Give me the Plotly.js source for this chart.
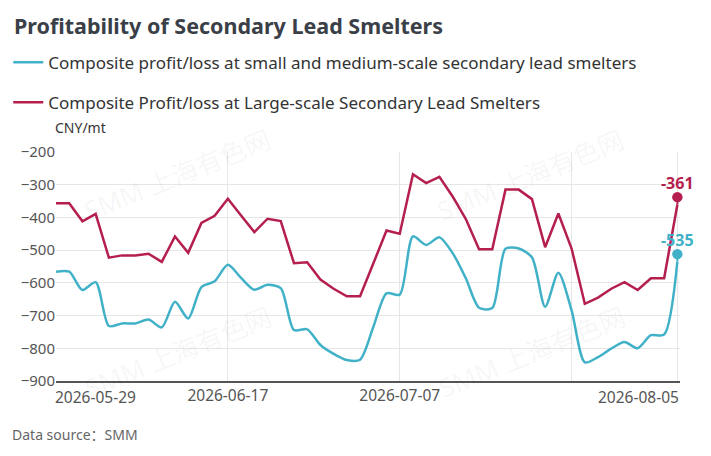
<!DOCTYPE html>
<html>
<head>
<meta charset="utf-8">
<script src="https://cdn.plot.ly/plotly-3.0.1.min.js"></script>
<style>
  html, body { margin: 0; padding: 0; background: #fff; }
  #chart { width: 711px; height: 456px; }
</style>
</head>
<body>
<div id="chart"></div>
<script>
// ---- data ----
const dates = [
  '2026-05-29','2026-06-01','2026-06-02','2026-06-03','2026-06-04','2026-06-05',
  '2026-06-08','2026-06-09','2026-06-10','2026-06-11','2026-06-12','2026-06-15',
  '2026-06-16','2026-06-17','2026-06-18','2026-06-22','2026-06-23','2026-06-24',
  '2026-06-25','2026-06-26','2026-06-29','2026-06-30','2026-07-01','2026-07-02',
  '2026-07-03','2026-07-06','2026-07-07','2026-07-08','2026-07-09','2026-07-10',
  '2026-07-13','2026-07-14','2026-07-15','2026-07-16','2026-07-17','2026-07-20',
  '2026-07-21','2026-07-22','2026-07-23','2026-07-24','2026-07-27','2026-07-28',
  '2026-07-29','2026-07-30','2026-07-31','2026-08-03','2026-08-04','2026-08-05'
];
const smallMediumScale = [
  -566,-566,-622,-598,-732,-724,-724,-712,-736,-658,-709,-613,
  -595,-545,-585,-621,-606,-616,-744,-742,-790,-817,-836,-835,
  -735,-632,-636,-458,-484,-461,-509,-586,-676,-677,-496,-495,
  -522,-673,-569,-684,-843,-827,-801,-781,-800,-760,-758,-535
];
const largeScale = [
  -357,-357,-412,-389,-523,-516,-516,-511,-536,-458,-508,-417,
  -395,-343,-394,-445,-404,-411,-540,-537,-590,-618,-641,-641,
  -541,-440,-450,-268,-295,-276,-336,-405,-497,-497,-315,-315,
  -344,-491,-388,-495,-664,-645,-618,-598,-622,-586,-586,-361
];
const seriesNames = [
  'Composite profit/loss at small and medium-scale secondary lead smelters',
  'Composite Profit/loss at Large-scale Secondary Lead Smelters'
];
const tickDates = ['2026-05-29','2026-06-17','2026-07-07','2026-07-24','2026-08-05'];
const tickLabels = ['', '2026-06-17', '2026-07-07', '', ''];
const yTicks = [-900,-800,-700,-600,-500,-400,-300,-200];

const titleText = 'Profitability of Secondary Lead Smelters';
const unitText = 'CNY/mt';
const sourceText = 'Data source：SMM';
const watermark = 'SMM 上海有色网';

// ---- styles ----
const TEAL = '#41b1c8';
const RED = '#b51f4e';
const FONT = '"Noto Sans", "Open Sans", "Noto Sans CJK SC", sans-serif';
const last = dates.length - 1;

const traces = [
  {
    x: dates, y: smallMediumScale, name: seriesNames[0], type: 'scatter', mode: 'lines',
    line: { color: TEAL, width: 2.5, shape: 'spline', smoothing: 0.75 },
    legendgroup: 'a', hoverinfo: 'x+y'
  },
  {
    x: dates, y: largeScale, name: seriesNames[1], type: 'scatter', mode: 'lines',
    line: { color: RED, width: 2.5 },
    legendgroup: 'b', hoverinfo: 'x+y'
  }
];

function pin(series, color) {
  return {
    x: dates[last], y: series[last], xref: 'x', yref: 'y',
    text: '', showarrow: true, ax: 0, ay: -9,
    arrowhead: 0, startarrowhead: 6, arrowside: 'end+start',
    arrowwidth: 2, startarrowsize: 1.3, arrowsize: 1,
    arrowcolor: color, standoff: 0, startstandoff: 0
  };
}
function valueLabel(series, color) {
  return {
    x: dates[last], y: series[last], xref: 'x', yref: 'y',
    text: '<b>' + series[last] + '</b>', showarrow: false,
    yshift: 22, xanchor: 'center', yanchor: 'middle',
    font: { family: FONT, size: 16, color: color }
  };
}

const wmPos = [[0.194, 0.90], [0.76, 0.90], [0.196, 0.125], [0.763, 0.125]];
const annotations = wmPos.map(p => ({
  xref: 'paper', yref: 'paper', x: p[0], y: p[1], xanchor: 'center', yanchor: 'middle',
  text: watermark, showarrow: false,
  textangle: -22, font: { family: FONT, size: 26, color: 'rgba(0,0,0,0.05)' }
}));

annotations.push(
  pin(smallMediumScale, TEAL), pin(largeScale, RED),
  valueLabel(smallMediumScale, TEAL), valueLabel(largeScale, RED),
  {
    xref: 'paper', yref: 'paper', x: 0, y: 1.106, xanchor: 'left', yanchor: 'middle', xshift: -3,
    text: unitText, showarrow: false, font: { family: FONT, size: 14, color: '#333' }
  },
  {
    xref: 'paper', yref: 'paper', x: -0.0673, y: -0.232, xanchor: 'left', yanchor: 'middle', xshift: -4,
    text: sourceText, showarrow: false, font: { family: FONT, size: 14, color: '#666' }
  },
  {
    xref: 'x', yref: 'paper', x: dates[0], y: -0.07, xanchor: 'left', yanchor: 'middle', xshift: -3,
    text: dates[0], showarrow: false, font: { family: FONT, size: 15.5, color: '#555' }
  },
  {
    xref: 'x', yref: 'paper', x: dates[last], y: -0.07, xanchor: 'right', yanchor: 'middle', xshift: 4,
    text: dates[last], showarrow: false, font: { family: FONT, size: 15.5, color: '#555' }
  }
);

const layout = {
  width: 711, height: 456,
  margin: { l: 56, r: 31, t: 152, b: 75, autoexpand: false },
  paper_bgcolor: '#fff', plot_bgcolor: '#fff',
  font: { family: FONT, color: '#333' },
  title: {
    text: '<b>' + titleText + '</b>', xref: 'container', yref: 'container',
    x: 14 / 711, xanchor: 'left', y: 1 - 26 / 456, yanchor: 'middle',
    font: { family: FONT, size: 21.5, color: '#3a3f48' }
  },
  showlegend: true,
  legend: {
    orientation: 'v', x: -0.0765, xanchor: 'left', y: 1.469, yanchor: 'top',
    font: { family: FONT, size: 17, color: '#333' },
    tracegroupgap: 15, bgcolor: 'rgba(0,0,0,0)', itemwidth: 30
  },
  xaxis: {
    type: 'category', range: [0, last + 0.2],
    tickvals: tickDates, ticktext: tickLabels,
    showgrid: true, gridcolor: '#e6e6e6', gridwidth: 1,
    showline: true, linecolor: '#555', linewidth: 1.5,
    ticks: '', zeroline: false,
    tickfont: { family: FONT, size: 15.5, color: '#555' },
    fixedrange: true
  },
  yaxis: {
    range: [-900, -200], tickvals: yTicks,
    showgrid: true, gridcolor: '#e6e6e6', gridwidth: 1,
    showline: false, zeroline: false, ticks: '',
    tickfont: { family: FONT, size: 15, color: '#555' },
    fixedrange: true
  },
  annotations: annotations
};

Plotly.newPlot('chart', traces, layout, { displayModeBar: false, staticPlot: true });
</script>
</body>
</html>
